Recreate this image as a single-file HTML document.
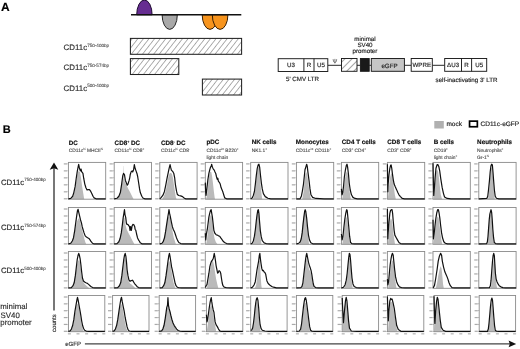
<!DOCTYPE html>
<html><head><meta charset="utf-8"><style>
html,body{margin:0;padding:0;background:#fff;}
svg{display:block;font-family:"Liberation Sans", sans-serif;text-rendering:geometricPrecision;will-change:transform;}
</style></head><body>
<svg width="520" height="349" viewBox="0 0 520 349">
<defs>
<pattern id="hatch" patternUnits="userSpaceOnUse" width="4.4" height="6" patternTransform="rotate(38)">
<line x1="0" y1="0" x2="0" y2="6" stroke="#3a3a3a" stroke-width="0.85"/>
</pattern>
<pattern id="hatch2" patternUnits="userSpaceOnUse" width="5" height="5" patternTransform="rotate(45)">
<line x1="0" y1="0" x2="0" y2="5" stroke="#333" stroke-width="0.9"/>
</pattern>
</defs>
<rect width="520" height="349" fill="#fff"/>
<!-- Panel A -->
<text x="1.1" y="10.7" font-size="12" font-weight="bold" fill="#000" stroke="#000" stroke-width="0.14">A</text>
<path d="M136.7,14.8 A7.7,14.8 0 0 1 152.1,14.8 Z" fill="#662d91" stroke="#1e0c30" stroke-width="1"/>
<path d="M162.1,14.8 A7.6,14.6 0 0 0 177.3,14.8 Z" fill="#a8a8a8" stroke="#222" stroke-width="1"/>
<path d="M202.2,14.8 A7.8,14.6 0 0 0 217.8,14.8 Z" fill="#f7941d" stroke="#3a1e00" stroke-width="1"/>
<path d="M212.3,14.8 A7.8,14.6 0 0 0 227.9,14.8 Z" fill="#f7941d" stroke="#3a1e00" stroke-width="1"/>
<line x1="131" y1="14.8" x2="241.3" y2="14.8" stroke="#111" stroke-width="1.6"/>
<rect x="130.4" y="38.4" width="111.2" height="15.9" fill="url(#hatch)" stroke="#222" stroke-width="1.05"/>
<rect x="130.4" y="58.6" width="48.4" height="15.9" fill="url(#hatch)" stroke="#222" stroke-width="1.05"/>
<rect x="202.4" y="79.1" width="39.2" height="15.9" fill="url(#hatch)" stroke="#222" stroke-width="1.05"/>
<text x="63.6" y="50.2" font-size="7.9" fill="#2e2e2e" stroke="#2e2e2e" stroke-width="0.15">CD11c<tspan dy="-3.32" font-size="4.6" stroke-width="0.08" fill="#444" stroke="#444">750-400bp</tspan></text>
<text x="63.6" y="70.4" font-size="7.9" fill="#2e2e2e" stroke="#2e2e2e" stroke-width="0.15">CD11c<tspan dy="-3.32" font-size="4.6" stroke-width="0.08" fill="#444" stroke="#444">750-574bp</tspan></text>
<text x="63.6" y="90.5" font-size="7.9" fill="#2e2e2e" stroke="#2e2e2e" stroke-width="0.15">CD11c<tspan dy="-3.32" font-size="4.6" stroke-width="0.08" fill="#444" stroke="#444">500-400bp</tspan></text>
<!-- vector -->
<g stroke="#1a1a1a" stroke-width="0.95">
<line x1="327.8" y1="65.3" x2="341.5" y2="65.3"/>
<line x1="357" y1="65.3" x2="360.2" y2="65.3"/>
<line x1="369.2" y1="65.3" x2="371.3" y2="65.3"/>
<line x1="404.4" y1="65.3" x2="411.2" y2="65.3"/>
<line x1="432.3" y1="65.3" x2="444.7" y2="65.3"/>
<rect x="278.2" y="58.7" width="49.6" height="12.8" fill="#fff"/>
<line x1="303.9" y1="58.7" x2="303.9" y2="71.5"/>
<line x1="314" y1="58.7" x2="314" y2="71.5"/>
<rect x="341.5" y="58.5" width="15.5" height="12.8" fill="url(#hatch2)"/>
<rect x="360.4" y="58.5" width="8.8" height="12.8" fill="#1a1a1a"/>
<rect x="371.3" y="58.5" width="33.1" height="12.8" fill="#c6c6c6"/>
<rect x="411.2" y="58.5" width="21.1" height="12.8" fill="#fff"/>
<rect x="444.7" y="58.5" width="42" height="12.8" fill="#fff"/>
<line x1="461.5" y1="58.5" x2="461.5" y2="71.3"/>
<line x1="471.6" y1="58.5" x2="471.6" y2="71.3"/>
</g>
<g font-size="6.2" fill="#2a2a2a" stroke="#2a2a2a" stroke-width="0.18" text-anchor="middle">
<text x="291" y="67.3">U3</text>
<text x="309" y="67.3">R</text>
<text x="321" y="67.3">U5</text>

<text x="389.5" y="67.5">eGFP</text>
<text x="421.8" y="67.3">WPRE</text>
<text x="453.1" y="67.3">&#916;U3</text>
<text x="466.6" y="67.3">R</text>
<text x="479.2" y="67.3">U5</text>
<text x="302.5" y="81.2">5' CMV LTR</text>
<text x="466.5" y="81.5">self-inactivating 3' LTR</text>
<text x="365" y="40.6">minimal</text>
<text x="365" y="46.6">SV40</text>
<text x="365" y="53.4">promoter</text>
</g>
<path d="M333.1,59.2 Q333.3,62.6 334.9,62.6 Q336.5,62.6 336.7,59.2 M334.9,58.9 L334.9,63.4" fill="none" stroke="#555" stroke-width="0.75"/>
<!-- Panel B -->
<text x="2.8" y="133.2" font-size="11" font-weight="bold" fill="#000" stroke="#000" stroke-width="0.14">B</text>
<rect x="434.3" y="121" width="9.5" height="7.5" fill="#b0b0b0"/>
<text x="446.4" y="126.4" font-size="6.5" fill="#222" stroke="#222" stroke-width="0.16">mock</text>
<rect x="469.55" y="121.15" width="7.8" height="5.6" fill="none" stroke="#000" stroke-width="1.7"/>
<text x="480.6" y="126.4" font-size="6.5" fill="#222" stroke="#222" stroke-width="0.16">CD11c-eGFP</text>
<text x="68.80" y="145.3" font-size="6.3" font-weight="bold" fill="#111" stroke="#111" stroke-width="0.16">DC</text>
<text x="68.80" y="152.40" font-size="4.85" fill="#444" stroke="#444" stroke-width="0.1">CD11c<tspan baseline-shift='super' font-size='3' stroke-width='0.05'>hi</tspan> MHCII<tspan baseline-shift='super' font-size='3' stroke-width='0.05'>hi</tspan></text>
<text x="114.60" y="144.8" font-size="6.3" font-weight="bold" fill="#111" stroke="#111" stroke-width="0.16">CD8<tspan baseline-shift='super' font-size='3.5'>+</tspan> DC</text>
<text x="114.60" y="152.40" font-size="4.85" fill="#444" stroke="#444" stroke-width="0.1">CD11c<tspan baseline-shift='super' font-size='3' stroke-width='0.05'>hi</tspan> CD8<tspan baseline-shift='super' font-size='3' stroke-width='0.05'>+</tspan></text>
<text x="161.00" y="144.5" font-size="6.3" font-weight="bold" fill="#111" stroke="#111" stroke-width="0.16">CD8<tspan baseline-shift='super' font-size='3.5'>-</tspan> DC</text>
<text x="161.00" y="152.40" font-size="4.85" fill="#444" stroke="#444" stroke-width="0.1">CD11c<tspan baseline-shift='super' font-size='3' stroke-width='0.05'>hi</tspan> CD8<tspan baseline-shift='super' font-size='3' stroke-width='0.05'>-</tspan></text>
<text x="206.40" y="143.9" font-size="6.3" font-weight="bold" fill="#111" stroke="#111" stroke-width="0.16">pDC</text>
<text x="206.40" y="152.40" font-size="4.85" fill="#444" stroke="#444" stroke-width="0.1">CD11c<tspan baseline-shift='super' font-size='3' stroke-width='0.05'>int</tspan> B220<tspan baseline-shift='super' font-size='3' stroke-width='0.05'>+</tspan></text>
<text x="206.40" y="158.60" font-size="4.85" fill="#444" stroke="#444" stroke-width="0.1">light chain</text>
<text x="251.70" y="143.9" font-size="6.3" font-weight="bold" fill="#111" stroke="#111" stroke-width="0.16">NK cells</text>
<text x="251.70" y="152.40" font-size="4.85" fill="#444" stroke="#444" stroke-width="0.1">NK1.1<tspan baseline-shift='super' font-size='3' stroke-width='0.05'>+</tspan></text>
<text x="295.80" y="143.8" font-size="6.3" font-weight="bold" fill="#111" stroke="#111" stroke-width="0.16">Monocytes</text>
<text x="295.80" y="152.40" font-size="4.85" fill="#444" stroke="#444" stroke-width="0.1">CD11c<tspan baseline-shift='super' font-size='3' stroke-width='0.05'>int</tspan> CD11b<tspan baseline-shift='super' font-size='3' stroke-width='0.05'>+</tspan></text>
<text x="341.80" y="143.9" font-size="6.3" font-weight="bold" fill="#111" stroke="#111" stroke-width="0.16">CD4 T cells</text>
<text x="341.80" y="152.40" font-size="4.85" fill="#444" stroke="#444" stroke-width="0.1">CD3<tspan baseline-shift='super' font-size='3' stroke-width='0.05'>+</tspan> CD4<tspan baseline-shift='super' font-size='3' stroke-width='0.05'>+</tspan></text>
<text x="387.30" y="143.9" font-size="6.3" font-weight="bold" fill="#111" stroke="#111" stroke-width="0.16">CD8 T cells</text>
<text x="387.30" y="152.40" font-size="4.85" fill="#444" stroke="#444" stroke-width="0.1">CD3<tspan baseline-shift='super' font-size='3' stroke-width='0.05'>+</tspan> CD8<tspan baseline-shift='super' font-size='3' stroke-width='0.05'>+</tspan></text>
<text x="433.70" y="143.9" font-size="6.3" font-weight="bold" fill="#111" stroke="#111" stroke-width="0.16">B cells</text>
<text x="433.70" y="152.40" font-size="4.85" fill="#444" stroke="#444" stroke-width="0.1">CD19<tspan baseline-shift='super' font-size='3' stroke-width='0.05'>+</tspan></text>
<text x="433.70" y="158.60" font-size="4.85" fill="#444" stroke="#444" stroke-width="0.1">light chain<tspan baseline-shift='super' font-size='3' stroke-width='0.05'>+</tspan></text>
<text x="477.10" y="143.9" font-size="6.3" font-weight="bold" fill="#111" stroke="#111" stroke-width="0.16">Neutrophils</text>
<text x="477.10" y="152.40" font-size="4.85" fill="#444" stroke="#444" stroke-width="0.1">Neutrophils<tspan baseline-shift='super' font-size='3' stroke-width='0.05'>+</tspan></text>
<text x="477.10" y="158.60" font-size="4.85" fill="#444" stroke="#444" stroke-width="0.1">Gr-1<tspan baseline-shift='super' font-size='3' stroke-width='0.05'>hi</tspan></text>
<text x="0.9" y="184.7" font-size="7.8" fill="#222" stroke="#222" stroke-width="0.12">CD11c<tspan dy="-3.28" font-size="4.5" stroke-width="0.08" fill="#444" stroke="#444">750-400bp</tspan></text>
<text x="0.9" y="229.9" font-size="7.8" fill="#222" stroke="#222" stroke-width="0.12">CD11c<tspan dy="-3.28" font-size="4.5" stroke-width="0.08" fill="#444" stroke="#444">750-574bp</tspan></text>
<text x="0.9" y="273.3" font-size="7.8" fill="#222" stroke="#222" stroke-width="0.12">CD11c<tspan dy="-3.28" font-size="4.5" stroke-width="0.08" fill="#444" stroke="#444">500-400bp</tspan></text>
<text x="0.3" y="309.4" font-size="7.85" fill="#2a2a2a" stroke="#2a2a2a" stroke-width="0.14">minimal</text>
<text x="0.6" y="317.8" font-size="7.85" fill="#2a2a2a" stroke="#2a2a2a" stroke-width="0.14">SV40</text>
<text x="0.3" y="325.3" font-size="7.85" fill="#2a2a2a" stroke="#2a2a2a" stroke-width="0.14">promoter</text>
<line x1="54" y1="168" x2="54" y2="310.6" stroke="#555" stroke-width="1.6"/>
<path d="M54,162.5 L58.3,169.8 L54,168.3 L49.7,169.8 Z" fill="#111"/>
<text transform="translate(55.9,331.9) rotate(-90)" font-size="6" fill="#2a2a2a" stroke="#2a2a2a" stroke-width="0.15">counts</text>
<text x="65.2" y="346.4" font-size="6.1" fill="#2a2a2a" stroke="#2a2a2a" stroke-width="0.1">eGFP</text>
<line x1="84.9" y1="343.9" x2="510" y2="343.9" stroke="#444" stroke-width="1.3"/>
<path d="M516.2,343.9 L508.6,340.6 L509.8,343.9 L508.6,347.2 Z" fill="#111"/>
<rect x="63.80" y="163.30" width="3.2" height="1.2" fill="#aaa"/>
<rect x="67.20" y="163.60" width="1.2" height="0.6" fill="#999"/>
<rect x="63.80" y="170.28" width="3.2" height="1.2" fill="#aaa"/>
<rect x="67.20" y="170.58" width="1.2" height="0.6" fill="#999"/>
<rect x="63.80" y="177.26" width="3.2" height="1.2" fill="#aaa"/>
<rect x="67.20" y="177.56" width="1.2" height="0.6" fill="#999"/>
<rect x="63.80" y="184.24" width="3.2" height="1.2" fill="#aaa"/>
<rect x="67.20" y="184.54" width="1.2" height="0.6" fill="#999"/>
<rect x="63.80" y="191.22" width="3.2" height="1.2" fill="#aaa"/>
<rect x="67.20" y="191.52" width="1.2" height="0.6" fill="#999"/>
<rect x="63.80" y="198.20" width="3.2" height="1.2" fill="#aaa"/>
<rect x="67.20" y="198.50" width="1.2" height="0.6" fill="#999"/>
<polygon points="71.38,199.20 73.25,196.26 75.11,188.90 76.23,181.90 77.35,174.54 78.66,170.86 79.96,171.97 81.08,178.22 82.20,186.69 83.32,193.68 84.07,198.46 84.44,199.20" fill="#bababa"/>
<rect x="68.40" y="162.40" width="37.3" height="36.8" fill="none" stroke="#8a8a8a" stroke-width="0.9"/>
<polyline points="68.40,198.83 70.82,198.46 72.69,196.26 73.81,192.58 75.11,186.69 76.23,178.22 77.35,170.86 78.10,167.18 78.66,164.24 79.22,167.18 79.96,169.76 80.34,170.86 81.08,169.02 81.64,171.60 82.95,173.44 83.69,178.22 84.81,184.11 85.93,187.79 87.05,190.00 88.17,189.63 89.47,189.63 90.78,191.47 91.90,193.68 93.02,196.26 94.14,197.91 96.00,198.83 105.70,198.83" fill="none" stroke="#111" stroke-width="1.2" stroke-linejoin="round"/>
<rect x="109.60" y="163.30" width="3.2" height="1.2" fill="#aaa"/>
<rect x="113.00" y="163.60" width="1.2" height="0.6" fill="#999"/>
<rect x="109.60" y="170.28" width="3.2" height="1.2" fill="#aaa"/>
<rect x="113.00" y="170.58" width="1.2" height="0.6" fill="#999"/>
<rect x="109.60" y="177.26" width="3.2" height="1.2" fill="#aaa"/>
<rect x="113.00" y="177.56" width="1.2" height="0.6" fill="#999"/>
<rect x="109.60" y="184.24" width="3.2" height="1.2" fill="#aaa"/>
<rect x="113.00" y="184.54" width="1.2" height="0.6" fill="#999"/>
<rect x="109.60" y="191.22" width="3.2" height="1.2" fill="#aaa"/>
<rect x="113.00" y="191.52" width="1.2" height="0.6" fill="#999"/>
<rect x="109.60" y="198.20" width="3.2" height="1.2" fill="#aaa"/>
<rect x="113.00" y="198.50" width="1.2" height="0.6" fill="#999"/>
<polygon points="117.00,199.20 118.86,196.26 120.54,190.00 122.03,184.11 123.34,178.22 123.60,166.08 123.82,166.08 124.08,178.22 124.83,181.90 126.51,185.22 128.37,188.90 130.24,192.58 132.10,196.26 133.60,199.20" fill="#bababa"/>
<rect x="114.20" y="162.40" width="37.3" height="36.8" fill="none" stroke="#8a8a8a" stroke-width="0.9"/>
<polyline points="114.20,198.83 117.00,198.28 118.86,196.26 120.35,192.58 121.66,184.11 122.78,175.65 123.53,173.44 124.46,174.54 125.39,180.43 126.40,183.01 127.25,185.22 128.00,184.11 129.12,180.43 129.68,178.22 130.24,174.54 131.21,171.60 132.10,170.86 132.66,171.97 133.60,169.76 134.34,164.61 135.09,168.29 136.02,170.86 136.95,173.44 137.70,176.75 138.67,183.01 139.56,188.90 140.31,192.58 141.80,196.26 143.29,198.28 145.16,198.83 151.50,198.83" fill="none" stroke="#111" stroke-width="1.2" stroke-linejoin="round"/>
<rect x="155.20" y="163.30" width="3.2" height="1.2" fill="#aaa"/>
<rect x="158.60" y="163.60" width="1.2" height="0.6" fill="#999"/>
<rect x="155.20" y="170.28" width="3.2" height="1.2" fill="#aaa"/>
<rect x="158.60" y="170.58" width="1.2" height="0.6" fill="#999"/>
<rect x="155.20" y="177.26" width="3.2" height="1.2" fill="#aaa"/>
<rect x="158.60" y="177.56" width="1.2" height="0.6" fill="#999"/>
<rect x="155.20" y="184.24" width="3.2" height="1.2" fill="#aaa"/>
<rect x="158.60" y="184.54" width="1.2" height="0.6" fill="#999"/>
<rect x="155.20" y="191.22" width="3.2" height="1.2" fill="#aaa"/>
<rect x="158.60" y="191.52" width="1.2" height="0.6" fill="#999"/>
<rect x="155.20" y="198.20" width="3.2" height="1.2" fill="#aaa"/>
<rect x="158.60" y="198.50" width="1.2" height="0.6" fill="#999"/>
<polygon points="162.04,199.20 163.90,196.26 165.58,191.47 167.07,184.11 168.38,176.75 169.50,173.44 170.62,172.70 171.92,173.81 173.04,178.22 173.97,185.22 175.09,192.58 175.84,197.36 176.59,199.20" fill="#bababa"/>
<rect x="159.80" y="162.40" width="37.3" height="36.8" fill="none" stroke="#8a8a8a" stroke-width="0.9"/>
<polyline points="159.80,198.83 161.29,197.36 162.97,195.15 164.46,191.47 165.77,185.22 167.07,178.22 168.38,171.97 169.12,168.29 170.06,164.61 170.62,167.18 171.36,170.13 172.11,170.86 173.04,171.97 173.79,173.44 174.72,178.22 175.47,185.22 176.59,191.47 177.33,194.42 178.82,195.52 180.69,195.89 182.55,196.62 184.42,198.28 185.91,198.83 197.10,198.83" fill="none" stroke="#111" stroke-width="1.2" stroke-linejoin="round"/>
<rect x="200.70" y="163.30" width="3.2" height="1.2" fill="#aaa"/>
<rect x="204.10" y="163.60" width="1.2" height="0.6" fill="#999"/>
<rect x="200.70" y="170.28" width="3.2" height="1.2" fill="#aaa"/>
<rect x="204.10" y="170.58" width="1.2" height="0.6" fill="#999"/>
<rect x="200.70" y="177.26" width="3.2" height="1.2" fill="#aaa"/>
<rect x="204.10" y="177.56" width="1.2" height="0.6" fill="#999"/>
<rect x="200.70" y="184.24" width="3.2" height="1.2" fill="#aaa"/>
<rect x="204.10" y="184.54" width="1.2" height="0.6" fill="#999"/>
<rect x="200.70" y="191.22" width="3.2" height="1.2" fill="#aaa"/>
<rect x="204.10" y="191.52" width="1.2" height="0.6" fill="#999"/>
<rect x="200.70" y="198.20" width="3.2" height="1.2" fill="#aaa"/>
<rect x="204.10" y="198.50" width="1.2" height="0.6" fill="#999"/>
<polygon points="206.05,199.20 206.79,196.26 207.72,188.90 208.51,180.43 209.40,174.54 210.34,171.60 211.27,171.97 212.01,175.65 212.95,183.01 213.88,191.47 214.62,197.36 215.00,199.20" fill="#bababa"/>
<rect x="205.30" y="162.40" width="37.3" height="36.8" fill="none" stroke="#8a8a8a" stroke-width="0.9"/>
<polyline points="205.30,182.64 205.67,191.84 206.05,195.52 206.98,187.79 207.91,179.33 208.88,173.44 209.78,169.76 210.52,167.18 211.27,166.08 211.64,164.24 212.39,167.18 213.32,169.02 214.25,170.13 215.00,171.97 215.74,173.44 216.49,176.75 217.24,179.33 217.80,178.22 218.36,181.17 219.32,182.27 220.22,184.11 221.15,187.79 222.09,190.00 222.83,191.84 223.95,195.52 224.70,197.91 226.56,198.83 242.60,198.83" fill="none" stroke="#111" stroke-width="1.2" stroke-linejoin="round"/>
<rect x="246.10" y="163.30" width="3.2" height="1.2" fill="#aaa"/>
<rect x="249.50" y="163.60" width="1.2" height="0.6" fill="#999"/>
<rect x="246.10" y="170.28" width="3.2" height="1.2" fill="#aaa"/>
<rect x="249.50" y="170.58" width="1.2" height="0.6" fill="#999"/>
<rect x="246.10" y="177.26" width="3.2" height="1.2" fill="#aaa"/>
<rect x="249.50" y="177.56" width="1.2" height="0.6" fill="#999"/>
<rect x="246.10" y="184.24" width="3.2" height="1.2" fill="#aaa"/>
<rect x="249.50" y="184.54" width="1.2" height="0.6" fill="#999"/>
<rect x="246.10" y="191.22" width="3.2" height="1.2" fill="#aaa"/>
<rect x="249.50" y="191.52" width="1.2" height="0.6" fill="#999"/>
<rect x="246.10" y="198.20" width="3.2" height="1.2" fill="#aaa"/>
<rect x="249.50" y="198.50" width="1.2" height="0.6" fill="#999"/>
<polygon points="252.75,199.20 253.91,196.26 255.18,190.00 256.07,181.90 257.04,173.44 257.79,168.29 258.53,166.82 259.28,169.76 260.17,178.22 260.88,187.79 261.74,195.52 262.26,199.20" fill="#bababa"/>
<rect x="250.70" y="162.40" width="37.3" height="36.8" fill="none" stroke="#8a8a8a" stroke-width="0.9"/>
<polyline points="250.70,198.83 252.19,197.91 253.31,195.52 254.43,191.47 255.36,184.11 256.30,175.65 257.26,168.29 258.16,164.98 258.91,164.24 259.65,167.18 260.40,174.54 261.37,183.01 262.26,188.90 263.38,193.68 265.25,196.62 267.86,198.28 270.84,198.83 288.00,198.83" fill="none" stroke="#111" stroke-width="1.2" stroke-linejoin="round"/>
<rect x="291.80" y="163.30" width="3.2" height="1.2" fill="#aaa"/>
<rect x="295.20" y="163.60" width="1.2" height="0.6" fill="#999"/>
<rect x="291.80" y="170.28" width="3.2" height="1.2" fill="#aaa"/>
<rect x="295.20" y="170.58" width="1.2" height="0.6" fill="#999"/>
<rect x="291.80" y="177.26" width="3.2" height="1.2" fill="#aaa"/>
<rect x="295.20" y="177.56" width="1.2" height="0.6" fill="#999"/>
<rect x="291.80" y="184.24" width="3.2" height="1.2" fill="#aaa"/>
<rect x="295.20" y="184.54" width="1.2" height="0.6" fill="#999"/>
<rect x="291.80" y="191.22" width="3.2" height="1.2" fill="#aaa"/>
<rect x="295.20" y="191.52" width="1.2" height="0.6" fill="#999"/>
<rect x="291.80" y="198.20" width="3.2" height="1.2" fill="#aaa"/>
<rect x="295.20" y="198.50" width="1.2" height="0.6" fill="#999"/>
<polygon points="302.18,199.20 303.49,192.58 304.61,180.80 305.35,174.54 306.28,171.97 307.22,174.54 308.15,181.90 309.45,191.47 310.57,197.36 311.32,199.20" fill="#bababa"/>
<rect x="296.40" y="162.40" width="37.3" height="36.8" fill="none" stroke="#8a8a8a" stroke-width="0.9"/>
<polyline points="296.40,198.83 300.13,198.83 301.44,195.89 302.37,191.10 303.49,184.11 304.23,177.12 304.98,169.76 306.10,166.08 306.66,164.24 307.22,166.08 307.96,172.34 309.08,180.80 310.01,188.90 310.95,194.78 312.63,197.36 315.80,198.46 324.00,198.83 333.70,198.83" fill="none" stroke="#111" stroke-width="1.2" stroke-linejoin="round"/>
<rect x="336.80" y="163.30" width="3.2" height="1.2" fill="#aaa"/>
<rect x="340.20" y="163.60" width="1.2" height="0.6" fill="#999"/>
<rect x="336.80" y="170.28" width="3.2" height="1.2" fill="#aaa"/>
<rect x="340.20" y="170.58" width="1.2" height="0.6" fill="#999"/>
<rect x="336.80" y="177.26" width="3.2" height="1.2" fill="#aaa"/>
<rect x="340.20" y="177.56" width="1.2" height="0.6" fill="#999"/>
<rect x="336.80" y="184.24" width="3.2" height="1.2" fill="#aaa"/>
<rect x="340.20" y="184.54" width="1.2" height="0.6" fill="#999"/>
<rect x="336.80" y="191.22" width="3.2" height="1.2" fill="#aaa"/>
<rect x="340.20" y="191.52" width="1.2" height="0.6" fill="#999"/>
<rect x="336.80" y="198.20" width="3.2" height="1.2" fill="#aaa"/>
<rect x="340.20" y="198.50" width="1.2" height="0.6" fill="#999"/>
<polygon points="342.03,199.20 343.00,194.78 344.01,187.79 344.76,180.43 345.65,174.54 346.62,171.60 347.59,173.44 348.49,180.43 349.23,188.90 350.24,195.52 350.95,199.20" fill="#bababa"/>
<rect x="341.40" y="162.40" width="37.3" height="36.8" fill="none" stroke="#8a8a8a" stroke-width="0.9"/>
<polyline points="341.40,188.90 342.03,194.78 342.78,192.58 343.64,185.22 344.38,176.75 345.43,169.76 346.36,165.34 347.00,164.24 347.59,166.82 348.49,174.54 349.23,183.01 350.24,190.00 351.47,194.78 352.96,197.36 355.05,198.46 357.44,198.83 378.70,198.83" fill="none" stroke="#111" stroke-width="1.2" stroke-linejoin="round"/>
<rect x="382.80" y="163.30" width="3.2" height="1.2" fill="#aaa"/>
<rect x="386.20" y="163.60" width="1.2" height="0.6" fill="#999"/>
<rect x="382.80" y="170.28" width="3.2" height="1.2" fill="#aaa"/>
<rect x="386.20" y="170.58" width="1.2" height="0.6" fill="#999"/>
<rect x="382.80" y="177.26" width="3.2" height="1.2" fill="#aaa"/>
<rect x="386.20" y="177.56" width="1.2" height="0.6" fill="#999"/>
<rect x="382.80" y="184.24" width="3.2" height="1.2" fill="#aaa"/>
<rect x="386.20" y="184.54" width="1.2" height="0.6" fill="#999"/>
<rect x="382.80" y="191.22" width="3.2" height="1.2" fill="#aaa"/>
<rect x="386.20" y="191.52" width="1.2" height="0.6" fill="#999"/>
<rect x="382.80" y="198.20" width="3.2" height="1.2" fill="#aaa"/>
<rect x="386.20" y="198.50" width="1.2" height="0.6" fill="#999"/>
<polygon points="387.77,199.20 388.41,192.58 389.38,183.01 390.20,176.75 391.13,173.44 392.03,174.54 393.00,180.43 393.93,187.79 394.86,194.78 395.87,199.20" fill="#bababa"/>
<rect x="387.40" y="162.40" width="37.3" height="36.8" fill="none" stroke="#8a8a8a" stroke-width="0.9"/>
<polyline points="387.40,164.24 387.62,180.80 387.85,191.84 388.15,184.11 389.00,174.54 389.86,168.29 390.57,165.34 391.13,164.98 391.76,168.29 392.36,173.44 393.22,179.33 394.11,184.11 395.38,187.06 396.58,189.63 397.84,192.58 398.96,194.78 400.45,196.62 402.32,198.46 404.56,198.83 424.70,198.83" fill="none" stroke="#111" stroke-width="1.2" stroke-linejoin="round"/>
<rect x="428.40" y="163.30" width="3.2" height="1.2" fill="#aaa"/>
<rect x="431.80" y="163.60" width="1.2" height="0.6" fill="#999"/>
<rect x="428.40" y="170.28" width="3.2" height="1.2" fill="#aaa"/>
<rect x="431.80" y="170.58" width="1.2" height="0.6" fill="#999"/>
<rect x="428.40" y="177.26" width="3.2" height="1.2" fill="#aaa"/>
<rect x="431.80" y="177.56" width="1.2" height="0.6" fill="#999"/>
<rect x="428.40" y="184.24" width="3.2" height="1.2" fill="#aaa"/>
<rect x="431.80" y="184.54" width="1.2" height="0.6" fill="#999"/>
<rect x="428.40" y="191.22" width="3.2" height="1.2" fill="#aaa"/>
<rect x="431.80" y="191.52" width="1.2" height="0.6" fill="#999"/>
<rect x="428.40" y="198.20" width="3.2" height="1.2" fill="#aaa"/>
<rect x="431.80" y="198.50" width="1.2" height="0.6" fill="#999"/>
<polygon points="433.60,199.20 434.49,190.00 435.46,177.86 436.36,170.86 437.29,169.39 438.22,171.97 439.12,179.14 439.98,187.42 440.83,194.78 441.95,198.83 442.32,199.20" fill="#bababa"/>
<rect x="433.00" y="162.40" width="37.3" height="36.8" fill="none" stroke="#8a8a8a" stroke-width="0.9"/>
<polyline points="433.00,163.14 433.37,180.80 433.75,195.52 434.23,190.00 435.09,177.86 435.98,168.29 437.10,164.61 437.85,164.61 438.78,166.45 439.71,170.86 440.83,179.14 442.14,187.42 443.44,193.31 444.56,196.99 447.17,198.46 450.90,198.83 470.30,198.83" fill="none" stroke="#111" stroke-width="1.2" stroke-linejoin="round"/>
<rect x="474.20" y="163.30" width="3.2" height="1.2" fill="#aaa"/>
<rect x="477.60" y="163.60" width="1.2" height="0.6" fill="#999"/>
<rect x="474.20" y="170.28" width="3.2" height="1.2" fill="#aaa"/>
<rect x="477.60" y="170.58" width="1.2" height="0.6" fill="#999"/>
<rect x="474.20" y="177.26" width="3.2" height="1.2" fill="#aaa"/>
<rect x="477.60" y="177.56" width="1.2" height="0.6" fill="#999"/>
<rect x="474.20" y="184.24" width="3.2" height="1.2" fill="#aaa"/>
<rect x="477.60" y="184.54" width="1.2" height="0.6" fill="#999"/>
<rect x="474.20" y="191.22" width="3.2" height="1.2" fill="#aaa"/>
<rect x="477.60" y="191.52" width="1.2" height="0.6" fill="#999"/>
<rect x="474.20" y="198.20" width="3.2" height="1.2" fill="#aaa"/>
<rect x="477.60" y="198.50" width="1.2" height="0.6" fill="#999"/>
<polygon points="488.01,199.20 488.76,194.78 489.47,186.69 490.18,176.75 490.92,169.76 491.63,167.18 492.38,169.76 493.09,179.33 493.79,190.00 494.47,197.36 494.84,199.20" fill="#bababa"/>
<rect x="478.80" y="162.40" width="37.3" height="36.8" fill="none" stroke="#8a8a8a" stroke-width="0.9"/>
<polyline points="478.80,198.83 486.82,198.46 487.75,196.26 488.50,190.00 489.47,180.43 490.18,171.97 490.92,166.08 491.63,164.24 492.38,164.98 492.97,171.97 493.72,181.90 494.39,190.00 495.21,196.26 496.44,198.28 498.94,198.83 516.10,198.83" fill="none" stroke="#111" stroke-width="1.2" stroke-linejoin="round"/>
<rect x="63.80" y="208.40" width="3.2" height="1.2" fill="#aaa"/>
<rect x="67.20" y="208.70" width="1.2" height="0.6" fill="#999"/>
<rect x="63.80" y="215.38" width="3.2" height="1.2" fill="#aaa"/>
<rect x="67.20" y="215.68" width="1.2" height="0.6" fill="#999"/>
<rect x="63.80" y="222.36" width="3.2" height="1.2" fill="#aaa"/>
<rect x="67.20" y="222.66" width="1.2" height="0.6" fill="#999"/>
<rect x="63.80" y="229.34" width="3.2" height="1.2" fill="#aaa"/>
<rect x="67.20" y="229.64" width="1.2" height="0.6" fill="#999"/>
<rect x="63.80" y="236.32" width="3.2" height="1.2" fill="#aaa"/>
<rect x="67.20" y="236.62" width="1.2" height="0.6" fill="#999"/>
<rect x="63.80" y="243.30" width="3.2" height="1.2" fill="#aaa"/>
<rect x="67.20" y="243.60" width="1.2" height="0.6" fill="#999"/>
<polygon points="70.82,244.30 72.61,240.99 74.18,235.10 75.64,227.74 76.83,221.85 78.10,218.91 78.99,218.17 79.96,220.75 81.04,225.53 82.20,230.32 83.43,235.10 84.66,239.88 85.56,242.83 86.30,244.30" fill="#bababa"/>
<rect x="68.40" y="207.50" width="37.3" height="36.8" fill="none" stroke="#8a8a8a" stroke-width="0.9"/>
<polyline points="68.40,243.93 70.82,243.20 72.32,240.99 73.51,237.68 74.74,230.32 75.86,221.85 76.83,214.86 77.54,210.44 78.10,209.34 78.77,212.28 79.59,215.96 80.45,219.64 81.45,222.96 82.20,226.64 82.95,229.21 84.07,232.89 85.19,235.84 86.45,236.94 87.65,237.68 88.92,238.41 90.03,239.88 91.15,241.72 92.46,243.20 94.14,243.93 105.70,243.93" fill="none" stroke="#111" stroke-width="1.2" stroke-linejoin="round"/>
<rect x="109.60" y="208.40" width="3.2" height="1.2" fill="#aaa"/>
<rect x="113.00" y="208.70" width="1.2" height="0.6" fill="#999"/>
<rect x="109.60" y="215.38" width="3.2" height="1.2" fill="#aaa"/>
<rect x="113.00" y="215.68" width="1.2" height="0.6" fill="#999"/>
<rect x="109.60" y="222.36" width="3.2" height="1.2" fill="#aaa"/>
<rect x="113.00" y="222.66" width="1.2" height="0.6" fill="#999"/>
<rect x="109.60" y="229.34" width="3.2" height="1.2" fill="#aaa"/>
<rect x="113.00" y="229.64" width="1.2" height="0.6" fill="#999"/>
<rect x="109.60" y="236.32" width="3.2" height="1.2" fill="#aaa"/>
<rect x="113.00" y="236.62" width="1.2" height="0.6" fill="#999"/>
<rect x="109.60" y="243.30" width="3.2" height="1.2" fill="#aaa"/>
<rect x="113.00" y="243.60" width="1.2" height="0.6" fill="#999"/>
<polygon points="117.00,244.30 118.83,241.72 120.39,236.20 121.85,229.21 123.04,221.85 123.90,217.07 124.64,218.17 125.39,224.43 126.62,229.21 128.45,232.89 130.24,236.20 132.10,239.88 133.60,242.83 134.53,244.30" fill="#bababa"/>
<rect x="114.20" y="207.50" width="37.3" height="36.8" fill="none" stroke="#8a8a8a" stroke-width="0.9"/>
<polyline points="114.20,243.93 117.00,243.56 118.83,241.72 120.02,238.78 121.29,232.89 122.41,224.43 123.26,217.07 123.90,213.39 124.49,209.71 125.02,214.86 125.69,217.07 126.40,223.32 126.99,224.43 127.85,224.43 128.67,225.53 129.49,226.64 130.02,230.32 130.61,226.64 131.36,230.32 132.10,225.90 132.85,224.43 133.86,224.80 134.72,226.64 135.09,229.21 135.83,230.32 136.58,234.00 137.48,237.68 138.44,239.88 139.27,240.99 140.31,242.83 142.18,243.93 151.50,243.93" fill="none" stroke="#111" stroke-width="1.2" stroke-linejoin="round"/>
<rect x="155.20" y="208.40" width="3.2" height="1.2" fill="#aaa"/>
<rect x="158.60" y="208.70" width="1.2" height="0.6" fill="#999"/>
<rect x="155.20" y="215.38" width="3.2" height="1.2" fill="#aaa"/>
<rect x="158.60" y="215.68" width="1.2" height="0.6" fill="#999"/>
<rect x="155.20" y="222.36" width="3.2" height="1.2" fill="#aaa"/>
<rect x="158.60" y="222.66" width="1.2" height="0.6" fill="#999"/>
<rect x="155.20" y="229.34" width="3.2" height="1.2" fill="#aaa"/>
<rect x="158.60" y="229.64" width="1.2" height="0.6" fill="#999"/>
<rect x="155.20" y="236.32" width="3.2" height="1.2" fill="#aaa"/>
<rect x="158.60" y="236.62" width="1.2" height="0.6" fill="#999"/>
<rect x="155.20" y="243.30" width="3.2" height="1.2" fill="#aaa"/>
<rect x="158.60" y="243.60" width="1.2" height="0.6" fill="#999"/>
<polygon points="162.04,244.30 163.53,240.99 164.65,236.20 165.88,229.21 167.07,221.85 168.27,217.07 169.24,216.33 170.24,218.17 171.36,224.43 172.59,231.42 173.79,237.68 175.09,241.72 175.84,244.30" fill="#bababa"/>
<rect x="159.80" y="207.50" width="37.3" height="36.8" fill="none" stroke="#8a8a8a" stroke-width="0.9"/>
<polyline points="159.80,243.93 162.04,243.20 163.16,241.72 164.43,238.04 165.62,231.42 166.89,222.96 167.78,217.07 168.49,213.02 168.98,209.71 169.61,213.39 170.43,217.07 171.36,221.85 172.37,226.64 173.23,229.21 174.35,231.42 175.24,234.00 176.44,237.68 177.70,240.62 178.82,242.46 180.69,243.56 182.93,243.93 197.10,243.93" fill="none" stroke="#111" stroke-width="1.2" stroke-linejoin="round"/>
<rect x="200.70" y="208.40" width="3.2" height="1.2" fill="#aaa"/>
<rect x="204.10" y="208.70" width="1.2" height="0.6" fill="#999"/>
<rect x="200.70" y="215.38" width="3.2" height="1.2" fill="#aaa"/>
<rect x="204.10" y="215.68" width="1.2" height="0.6" fill="#999"/>
<rect x="200.70" y="222.36" width="3.2" height="1.2" fill="#aaa"/>
<rect x="204.10" y="222.66" width="1.2" height="0.6" fill="#999"/>
<rect x="200.70" y="229.34" width="3.2" height="1.2" fill="#aaa"/>
<rect x="204.10" y="229.64" width="1.2" height="0.6" fill="#999"/>
<rect x="200.70" y="236.32" width="3.2" height="1.2" fill="#aaa"/>
<rect x="204.10" y="236.62" width="1.2" height="0.6" fill="#999"/>
<rect x="200.70" y="243.30" width="3.2" height="1.2" fill="#aaa"/>
<rect x="204.10" y="243.60" width="1.2" height="0.6" fill="#999"/>
<polygon points="206.05,244.30 206.94,239.88 207.91,231.42 208.88,222.96 209.78,217.07 210.78,214.86 211.75,217.07 212.76,225.53 213.69,234.00 214.62,238.78 215.74,241.72 216.86,243.56 217.61,244.30" fill="#bababa"/>
<rect x="205.30" y="207.50" width="37.3" height="36.8" fill="none" stroke="#8a8a8a" stroke-width="0.9"/>
<polyline points="205.30,233.26 205.75,239.88 206.42,234.00 207.31,229.21 208.13,222.96 208.88,217.07 209.70,213.39 210.52,210.44 211.16,209.71 211.75,213.39 212.39,217.07 213.21,224.43 213.88,230.32 214.89,233.26 216.12,234.73 217.24,235.10 218.50,235.84 219.70,236.20 220.59,237.68 221.71,239.15 222.94,240.99 224.51,242.46 226.56,243.56 228.99,243.93 242.60,243.93" fill="none" stroke="#111" stroke-width="1.2" stroke-linejoin="round"/>
<rect x="246.10" y="208.40" width="3.2" height="1.2" fill="#aaa"/>
<rect x="249.50" y="208.70" width="1.2" height="0.6" fill="#999"/>
<rect x="246.10" y="215.38" width="3.2" height="1.2" fill="#aaa"/>
<rect x="249.50" y="215.68" width="1.2" height="0.6" fill="#999"/>
<rect x="246.10" y="222.36" width="3.2" height="1.2" fill="#aaa"/>
<rect x="249.50" y="222.66" width="1.2" height="0.6" fill="#999"/>
<rect x="246.10" y="229.34" width="3.2" height="1.2" fill="#aaa"/>
<rect x="249.50" y="229.64" width="1.2" height="0.6" fill="#999"/>
<rect x="246.10" y="236.32" width="3.2" height="1.2" fill="#aaa"/>
<rect x="249.50" y="236.62" width="1.2" height="0.6" fill="#999"/>
<rect x="246.10" y="243.30" width="3.2" height="1.2" fill="#aaa"/>
<rect x="249.50" y="243.60" width="1.2" height="0.6" fill="#999"/>
<polygon points="252.71,244.30 253.91,240.99 254.88,235.10 255.70,226.64 256.56,218.17 257.53,213.39 258.16,212.28 258.91,215.96 259.65,225.53 260.40,235.10 261.14,241.72 261.52,244.30" fill="#bababa"/>
<rect x="250.70" y="207.50" width="37.3" height="36.8" fill="none" stroke="#8a8a8a" stroke-width="0.9"/>
<polyline points="250.70,243.93 252.19,243.20 253.31,240.99 254.43,236.20 255.40,229.21 256.30,220.75 257.04,214.86 257.79,210.44 258.35,209.71 258.91,213.39 259.58,221.85 260.29,230.32 261.14,236.20 262.26,240.62 264.13,242.83 266.55,243.75 269.35,243.93 288.00,243.93" fill="none" stroke="#111" stroke-width="1.2" stroke-linejoin="round"/>
<rect x="291.80" y="208.40" width="3.2" height="1.2" fill="#aaa"/>
<rect x="295.20" y="208.70" width="1.2" height="0.6" fill="#999"/>
<rect x="291.80" y="215.38" width="3.2" height="1.2" fill="#aaa"/>
<rect x="295.20" y="215.68" width="1.2" height="0.6" fill="#999"/>
<rect x="291.80" y="222.36" width="3.2" height="1.2" fill="#aaa"/>
<rect x="295.20" y="222.66" width="1.2" height="0.6" fill="#999"/>
<rect x="291.80" y="229.34" width="3.2" height="1.2" fill="#aaa"/>
<rect x="295.20" y="229.64" width="1.2" height="0.6" fill="#999"/>
<rect x="291.80" y="236.32" width="3.2" height="1.2" fill="#aaa"/>
<rect x="295.20" y="236.62" width="1.2" height="0.6" fill="#999"/>
<rect x="291.80" y="243.30" width="3.2" height="1.2" fill="#aaa"/>
<rect x="295.20" y="243.60" width="1.2" height="0.6" fill="#999"/>
<polygon points="299.38,244.30 300.61,240.99 301.58,235.10 302.37,226.64 303.38,218.17 304.34,213.39 305.20,212.28 306.02,214.86 306.84,223.32 307.70,232.89 308.45,239.88 309.16,244.30" fill="#bababa"/>
<rect x="296.40" y="207.50" width="37.3" height="36.8" fill="none" stroke="#8a8a8a" stroke-width="0.9"/>
<polyline points="296.40,243.93 298.82,243.20 300.24,241.72 301.25,238.78 302.18,232.89 303.04,224.43 303.86,217.07 304.61,211.55 305.20,209.71 305.80,211.55 306.66,218.17 307.48,226.64 308.45,235.10 309.45,239.88 310.84,242.83 313.19,243.93 333.70,243.93" fill="none" stroke="#111" stroke-width="1.2" stroke-linejoin="round"/>
<rect x="336.80" y="208.40" width="3.2" height="1.2" fill="#aaa"/>
<rect x="340.20" y="208.70" width="1.2" height="0.6" fill="#999"/>
<rect x="336.80" y="215.38" width="3.2" height="1.2" fill="#aaa"/>
<rect x="340.20" y="215.68" width="1.2" height="0.6" fill="#999"/>
<rect x="336.80" y="222.36" width="3.2" height="1.2" fill="#aaa"/>
<rect x="340.20" y="222.66" width="1.2" height="0.6" fill="#999"/>
<rect x="336.80" y="229.34" width="3.2" height="1.2" fill="#aaa"/>
<rect x="340.20" y="229.64" width="1.2" height="0.6" fill="#999"/>
<rect x="336.80" y="236.32" width="3.2" height="1.2" fill="#aaa"/>
<rect x="340.20" y="236.62" width="1.2" height="0.6" fill="#999"/>
<rect x="336.80" y="243.30" width="3.2" height="1.2" fill="#aaa"/>
<rect x="340.20" y="243.60" width="1.2" height="0.6" fill="#999"/>
<polygon points="342.15,244.30 342.97,239.88 343.82,231.42 344.76,222.96 345.73,218.17 346.62,217.07 347.37,220.75 348.38,229.21 349.34,238.78 349.98,244.30" fill="#bababa"/>
<rect x="341.40" y="207.50" width="37.3" height="36.8" fill="none" stroke="#8a8a8a" stroke-width="0.9"/>
<polyline points="341.40,234.00 342.15,239.88 342.97,236.20 343.82,227.74 344.76,219.64 345.73,213.39 346.62,209.71 347.18,210.44 347.74,215.96 348.64,225.53 349.61,236.20 350.54,242.46 351.73,243.56 354.45,243.93 378.70,243.93" fill="none" stroke="#111" stroke-width="1.2" stroke-linejoin="round"/>
<rect x="382.80" y="208.40" width="3.2" height="1.2" fill="#aaa"/>
<rect x="386.20" y="208.70" width="1.2" height="0.6" fill="#999"/>
<rect x="382.80" y="215.38" width="3.2" height="1.2" fill="#aaa"/>
<rect x="386.20" y="215.68" width="1.2" height="0.6" fill="#999"/>
<rect x="382.80" y="222.36" width="3.2" height="1.2" fill="#aaa"/>
<rect x="386.20" y="222.66" width="1.2" height="0.6" fill="#999"/>
<rect x="382.80" y="229.34" width="3.2" height="1.2" fill="#aaa"/>
<rect x="386.20" y="229.64" width="1.2" height="0.6" fill="#999"/>
<rect x="382.80" y="236.32" width="3.2" height="1.2" fill="#aaa"/>
<rect x="386.20" y="236.62" width="1.2" height="0.6" fill="#999"/>
<rect x="382.80" y="243.30" width="3.2" height="1.2" fill="#aaa"/>
<rect x="386.20" y="243.60" width="1.2" height="0.6" fill="#999"/>
<polygon points="387.77,244.30 388.41,238.78 389.12,229.21 389.86,221.85 390.76,218.17 391.76,219.64 392.62,225.53 393.48,234.00 394.49,240.99 395.05,244.30" fill="#bababa"/>
<rect x="387.40" y="207.50" width="37.3" height="36.8" fill="none" stroke="#8a8a8a" stroke-width="0.9"/>
<polyline points="387.40,208.97 387.59,225.90 387.85,238.78 388.15,232.89 389.00,221.85 389.86,213.39 390.57,210.44 391.43,209.71 392.03,209.71 392.62,213.39 393.22,220.75 394.11,230.32 394.86,235.10 396.24,237.68 397.47,239.88 398.96,242.46 400.45,243.56 402.32,243.93 424.70,243.93" fill="none" stroke="#111" stroke-width="1.2" stroke-linejoin="round"/>
<rect x="428.40" y="208.40" width="3.2" height="1.2" fill="#aaa"/>
<rect x="431.80" y="208.70" width="1.2" height="0.6" fill="#999"/>
<rect x="428.40" y="215.38" width="3.2" height="1.2" fill="#aaa"/>
<rect x="431.80" y="215.68" width="1.2" height="0.6" fill="#999"/>
<rect x="428.40" y="222.36" width="3.2" height="1.2" fill="#aaa"/>
<rect x="431.80" y="222.66" width="1.2" height="0.6" fill="#999"/>
<rect x="428.40" y="229.34" width="3.2" height="1.2" fill="#aaa"/>
<rect x="431.80" y="229.64" width="1.2" height="0.6" fill="#999"/>
<rect x="428.40" y="236.32" width="3.2" height="1.2" fill="#aaa"/>
<rect x="431.80" y="236.62" width="1.2" height="0.6" fill="#999"/>
<rect x="428.40" y="243.30" width="3.2" height="1.2" fill="#aaa"/>
<rect x="431.80" y="243.60" width="1.2" height="0.6" fill="#999"/>
<polygon points="433.45,244.30 434.12,238.78 435.01,230.32 435.83,222.96 436.73,218.17 437.77,216.33 438.60,218.17 439.45,224.43 440.46,232.89 441.39,239.88 442.21,244.30" fill="#bababa"/>
<rect x="433.00" y="207.50" width="37.3" height="36.8" fill="none" stroke="#8a8a8a" stroke-width="0.9"/>
<polyline points="433.00,219.64 433.22,229.58 433.45,238.78 434.12,234.00 435.01,225.53 435.83,218.54 436.73,213.02 437.66,209.71 438.37,209.71 438.97,212.28 439.83,218.17 440.65,225.53 441.58,232.89 442.59,238.04 443.82,241.72 445.31,243.20 447.55,243.93 470.30,243.93" fill="none" stroke="#111" stroke-width="1.2" stroke-linejoin="round"/>
<rect x="474.20" y="208.40" width="3.2" height="1.2" fill="#aaa"/>
<rect x="477.60" y="208.70" width="1.2" height="0.6" fill="#999"/>
<rect x="474.20" y="215.38" width="3.2" height="1.2" fill="#aaa"/>
<rect x="477.60" y="215.68" width="1.2" height="0.6" fill="#999"/>
<rect x="474.20" y="222.36" width="3.2" height="1.2" fill="#aaa"/>
<rect x="477.60" y="222.66" width="1.2" height="0.6" fill="#999"/>
<rect x="474.20" y="229.34" width="3.2" height="1.2" fill="#aaa"/>
<rect x="477.60" y="229.64" width="1.2" height="0.6" fill="#999"/>
<rect x="474.20" y="236.32" width="3.2" height="1.2" fill="#aaa"/>
<rect x="477.60" y="236.62" width="1.2" height="0.6" fill="#999"/>
<rect x="474.20" y="243.30" width="3.2" height="1.2" fill="#aaa"/>
<rect x="477.60" y="243.60" width="1.2" height="0.6" fill="#999"/>
<polygon points="487.38,244.30 488.01,239.88 488.76,229.21 489.47,219.64 490.18,214.86 490.92,213.39 491.63,217.07 492.38,226.64 493.09,236.20 493.79,242.46 494.28,244.30" fill="#bababa"/>
<rect x="478.80" y="207.50" width="37.3" height="36.8" fill="none" stroke="#8a8a8a" stroke-width="0.9"/>
<polyline points="478.80,243.93 486.63,243.75 487.38,241.72 488.01,236.20 488.61,228.11 489.24,219.64 489.84,214.12 490.44,211.92 491.03,209.71 491.63,212.28 492.23,219.64 492.82,229.21 493.57,237.68 494.28,242.46 495.47,243.56 497.64,243.93 516.10,243.93" fill="none" stroke="#111" stroke-width="1.2" stroke-linejoin="round"/>
<rect x="63.80" y="252.40" width="3.2" height="1.2" fill="#aaa"/>
<rect x="67.20" y="252.70" width="1.2" height="0.6" fill="#999"/>
<rect x="63.80" y="259.38" width="3.2" height="1.2" fill="#aaa"/>
<rect x="67.20" y="259.68" width="1.2" height="0.6" fill="#999"/>
<rect x="63.80" y="266.36" width="3.2" height="1.2" fill="#aaa"/>
<rect x="67.20" y="266.66" width="1.2" height="0.6" fill="#999"/>
<rect x="63.80" y="273.34" width="3.2" height="1.2" fill="#aaa"/>
<rect x="67.20" y="273.64" width="1.2" height="0.6" fill="#999"/>
<rect x="63.80" y="280.32" width="3.2" height="1.2" fill="#aaa"/>
<rect x="67.20" y="280.62" width="1.2" height="0.6" fill="#999"/>
<rect x="63.80" y="287.30" width="3.2" height="1.2" fill="#aaa"/>
<rect x="67.20" y="287.60" width="1.2" height="0.6" fill="#999"/>
<polygon points="71.38,288.30 73.25,284.99 74.67,279.10 75.86,271.74 77.05,264.75 78.02,261.07 78.99,259.96 79.96,262.17 80.90,269.53 81.83,276.89 83.10,281.68 84.63,283.88 86.45,285.72 88.24,287.20 89.47,288.30" fill="#bababa"/>
<rect x="68.40" y="251.50" width="37.3" height="36.8" fill="none" stroke="#8a8a8a" stroke-width="0.9"/>
<polyline points="68.40,287.93 71.38,287.56 72.99,285.72 74.18,282.78 75.38,275.42 76.34,266.96 77.17,259.96 78.02,255.55 78.73,253.34 79.48,255.55 80.19,259.23 80.90,264.75 81.64,271.74 82.46,278.00 83.43,280.94 84.63,282.04 85.86,282.78 87.42,283.33 88.84,284.62 90.03,285.72 91.26,286.83 92.65,287.56 94.88,287.93 105.70,287.93" fill="none" stroke="#111" stroke-width="1.2" stroke-linejoin="round"/>
<rect x="109.60" y="252.40" width="3.2" height="1.2" fill="#aaa"/>
<rect x="113.00" y="252.70" width="1.2" height="0.6" fill="#999"/>
<rect x="109.60" y="259.38" width="3.2" height="1.2" fill="#aaa"/>
<rect x="113.00" y="259.68" width="1.2" height="0.6" fill="#999"/>
<rect x="109.60" y="266.36" width="3.2" height="1.2" fill="#aaa"/>
<rect x="113.00" y="266.66" width="1.2" height="0.6" fill="#999"/>
<rect x="109.60" y="273.34" width="3.2" height="1.2" fill="#aaa"/>
<rect x="113.00" y="273.64" width="1.2" height="0.6" fill="#999"/>
<rect x="109.60" y="280.32" width="3.2" height="1.2" fill="#aaa"/>
<rect x="113.00" y="280.62" width="1.2" height="0.6" fill="#999"/>
<rect x="109.60" y="287.30" width="3.2" height="1.2" fill="#aaa"/>
<rect x="113.00" y="287.60" width="1.2" height="0.6" fill="#999"/>
<polygon points="117.71,288.30 119.42,285.72 120.91,281.68 122.14,273.21 123.15,265.85 124.08,259.96 124.91,257.39 125.76,259.96 126.51,266.96 127.44,276.89 128.52,280.94 130.09,283.52 131.54,284.62 132.85,285.72 134.53,287.20 135.72,288.30" fill="#bababa"/>
<rect x="114.20" y="251.50" width="37.3" height="36.8" fill="none" stroke="#8a8a8a" stroke-width="0.9"/>
<polyline points="114.20,287.93 117.71,287.56 119.42,285.72 120.69,282.78 121.88,275.42 122.85,266.96 123.71,259.96 124.53,255.18 125.20,253.34 125.87,256.28 126.51,262.17 127.07,269.53 127.93,275.42 128.90,279.84 130.09,281.31 131.28,280.57 132.48,280.20 133.45,281.68 134.53,283.52 135.72,284.99 136.95,286.46 138.44,287.56 140.53,287.93 151.50,287.93" fill="none" stroke="#111" stroke-width="1.2" stroke-linejoin="round"/>
<rect x="155.20" y="252.40" width="3.2" height="1.2" fill="#aaa"/>
<rect x="158.60" y="252.70" width="1.2" height="0.6" fill="#999"/>
<rect x="155.20" y="259.38" width="3.2" height="1.2" fill="#aaa"/>
<rect x="158.60" y="259.68" width="1.2" height="0.6" fill="#999"/>
<rect x="155.20" y="266.36" width="3.2" height="1.2" fill="#aaa"/>
<rect x="158.60" y="266.66" width="1.2" height="0.6" fill="#999"/>
<rect x="155.20" y="273.34" width="3.2" height="1.2" fill="#aaa"/>
<rect x="158.60" y="273.64" width="1.2" height="0.6" fill="#999"/>
<rect x="155.20" y="280.32" width="3.2" height="1.2" fill="#aaa"/>
<rect x="158.60" y="280.62" width="1.2" height="0.6" fill="#999"/>
<rect x="155.20" y="287.30" width="3.2" height="1.2" fill="#aaa"/>
<rect x="158.60" y="287.60" width="1.2" height="0.6" fill="#999"/>
<polygon points="162.22,288.30 164.01,284.99 165.21,280.20 166.40,273.21 167.63,265.85 168.57,262.17 169.42,261.07 170.39,263.64 171.36,269.53 172.48,276.89 173.60,282.78 174.83,286.46 175.47,288.30" fill="#bababa"/>
<rect x="159.80" y="251.50" width="37.3" height="36.8" fill="none" stroke="#8a8a8a" stroke-width="0.9"/>
<polyline points="159.80,287.93 162.22,287.56 163.64,285.72 164.84,282.78 166.07,275.42 167.04,268.43 168.01,261.07 168.83,255.55 169.42,253.34 170.02,256.28 170.88,262.17 171.59,266.96 172.48,270.64 173.23,274.32 174.24,279.10 175.20,283.52 176.03,285.72 177.26,287.20 179.05,287.75 181.43,287.93 197.10,287.93" fill="none" stroke="#111" stroke-width="1.2" stroke-linejoin="round"/>
<rect x="200.70" y="252.40" width="3.2" height="1.2" fill="#aaa"/>
<rect x="204.10" y="252.70" width="1.2" height="0.6" fill="#999"/>
<rect x="200.70" y="259.38" width="3.2" height="1.2" fill="#aaa"/>
<rect x="204.10" y="259.68" width="1.2" height="0.6" fill="#999"/>
<rect x="200.70" y="266.36" width="3.2" height="1.2" fill="#aaa"/>
<rect x="204.10" y="266.66" width="1.2" height="0.6" fill="#999"/>
<rect x="200.70" y="273.34" width="3.2" height="1.2" fill="#aaa"/>
<rect x="204.10" y="273.64" width="1.2" height="0.6" fill="#999"/>
<rect x="200.70" y="280.32" width="3.2" height="1.2" fill="#aaa"/>
<rect x="204.10" y="280.62" width="1.2" height="0.6" fill="#999"/>
<rect x="200.70" y="287.30" width="3.2" height="1.2" fill="#aaa"/>
<rect x="204.10" y="287.60" width="1.2" height="0.6" fill="#999"/>
<polygon points="206.79,288.30 207.91,283.88 209.14,276.89 210.34,268.43 211.57,262.17 212.54,259.96 213.36,262.17 214.33,266.96 215.18,273.21 216.12,279.10 217.35,284.62 218.36,288.30" fill="#bababa"/>
<rect x="205.30" y="251.50" width="37.3" height="36.8" fill="none" stroke="#8a8a8a" stroke-width="0.9"/>
<polyline points="205.30,287.56 206.16,285.72 206.98,284.62 207.91,279.10 208.92,273.21 209.78,266.96 210.60,263.64 211.57,261.07 212.54,259.96 213.36,258.12 214.25,253.34 214.81,256.28 215.52,261.07 216.12,265.85 216.97,269.90 217.61,273.21 218.28,272.48 219.03,270.64 220.00,271.37 220.70,273.21 221.41,278.00 222.16,282.78 222.98,285.72 224.17,287.20 226.56,287.75 230.66,287.93 242.60,287.93" fill="none" stroke="#111" stroke-width="1.2" stroke-linejoin="round"/>
<rect x="246.10" y="252.40" width="3.2" height="1.2" fill="#aaa"/>
<rect x="249.50" y="252.70" width="1.2" height="0.6" fill="#999"/>
<rect x="246.10" y="259.38" width="3.2" height="1.2" fill="#aaa"/>
<rect x="249.50" y="259.68" width="1.2" height="0.6" fill="#999"/>
<rect x="246.10" y="266.36" width="3.2" height="1.2" fill="#aaa"/>
<rect x="249.50" y="266.66" width="1.2" height="0.6" fill="#999"/>
<rect x="246.10" y="273.34" width="3.2" height="1.2" fill="#aaa"/>
<rect x="249.50" y="273.64" width="1.2" height="0.6" fill="#999"/>
<rect x="246.10" y="280.32" width="3.2" height="1.2" fill="#aaa"/>
<rect x="249.50" y="280.62" width="1.2" height="0.6" fill="#999"/>
<rect x="246.10" y="287.30" width="3.2" height="1.2" fill="#aaa"/>
<rect x="249.50" y="287.60" width="1.2" height="0.6" fill="#999"/>
<polygon points="254.91,288.30 256.11,284.99 256.97,279.10 257.68,271.74 258.38,264.75 259.13,261.07 259.73,260.33 260.32,266.96 260.77,276.89 261.29,284.99 261.78,288.30" fill="#bababa"/>
<rect x="250.70" y="251.50" width="37.3" height="36.8" fill="none" stroke="#8a8a8a" stroke-width="0.9"/>
<polyline points="250.70,287.93 252.49,287.20 254.06,284.99 255.29,281.68 256.22,275.42 257.04,269.53 257.94,264.75 258.64,261.07 259.35,255.18 259.84,253.34 260.40,258.86 261.03,263.64 261.78,268.43 262.49,270.64 263.20,270.27 263.94,271.74 264.87,272.48 265.73,274.32 266.37,278.00 266.93,280.94 268.16,283.52 269.72,284.99 271.77,286.46 273.56,287.20 276.44,287.93 288.00,287.93" fill="none" stroke="#111" stroke-width="1.2" stroke-linejoin="round"/>
<rect x="291.80" y="252.40" width="3.2" height="1.2" fill="#aaa"/>
<rect x="295.20" y="252.70" width="1.2" height="0.6" fill="#999"/>
<rect x="291.80" y="259.38" width="3.2" height="1.2" fill="#aaa"/>
<rect x="295.20" y="259.68" width="1.2" height="0.6" fill="#999"/>
<rect x="291.80" y="266.36" width="3.2" height="1.2" fill="#aaa"/>
<rect x="295.20" y="266.66" width="1.2" height="0.6" fill="#999"/>
<rect x="291.80" y="273.34" width="3.2" height="1.2" fill="#aaa"/>
<rect x="295.20" y="273.64" width="1.2" height="0.6" fill="#999"/>
<rect x="291.80" y="280.32" width="3.2" height="1.2" fill="#aaa"/>
<rect x="295.20" y="280.62" width="1.2" height="0.6" fill="#999"/>
<rect x="291.80" y="287.30" width="3.2" height="1.2" fill="#aaa"/>
<rect x="295.20" y="287.60" width="1.2" height="0.6" fill="#999"/>
<polygon points="302.00,288.30 302.89,284.99 303.86,278.00 304.83,269.53 305.65,262.17 306.51,258.86 307.22,259.96 308.07,264.75 308.90,268.43 309.83,270.64 310.84,273.21 311.69,276.89 312.51,281.68 313.19,285.72 313.74,288.30" fill="#bababa"/>
<rect x="296.40" y="251.50" width="37.3" height="36.8" fill="none" stroke="#8a8a8a" stroke-width="0.9"/>
<polyline points="296.40,287.93 300.88,287.56 302.00,286.46 302.89,282.78 303.86,274.32 304.83,265.85 305.65,258.86 306.28,255.18 306.73,253.34 307.22,255.55 307.81,258.86 308.45,262.17 309.27,265.12 310.20,267.69 311.10,270.64 311.80,274.32 312.51,279.10 313.19,283.52 314.08,286.46 315.65,287.56 318.30,287.93 333.70,287.93" fill="none" stroke="#111" stroke-width="1.2" stroke-linejoin="round"/>
<rect x="336.80" y="252.40" width="3.2" height="1.2" fill="#aaa"/>
<rect x="340.20" y="252.70" width="1.2" height="0.6" fill="#999"/>
<rect x="336.80" y="259.38" width="3.2" height="1.2" fill="#aaa"/>
<rect x="340.20" y="259.68" width="1.2" height="0.6" fill="#999"/>
<rect x="336.80" y="266.36" width="3.2" height="1.2" fill="#aaa"/>
<rect x="340.20" y="266.66" width="1.2" height="0.6" fill="#999"/>
<rect x="336.80" y="273.34" width="3.2" height="1.2" fill="#aaa"/>
<rect x="340.20" y="273.64" width="1.2" height="0.6" fill="#999"/>
<rect x="336.80" y="280.32" width="3.2" height="1.2" fill="#aaa"/>
<rect x="340.20" y="280.62" width="1.2" height="0.6" fill="#999"/>
<rect x="336.80" y="287.30" width="3.2" height="1.2" fill="#aaa"/>
<rect x="340.20" y="287.60" width="1.2" height="0.6" fill="#999"/>
<polygon points="344.16,288.30 345.35,285.72 346.58,280.20 347.55,271.74 348.38,263.64 349.08,258.86 349.83,258.12 350.54,263.64 351.28,273.21 351.99,282.78 352.70,288.30" fill="#bababa"/>
<rect x="341.40" y="251.50" width="37.3" height="36.8" fill="none" stroke="#8a8a8a" stroke-width="0.9"/>
<polyline points="341.40,287.93 343.56,287.20 345.02,284.99 346.25,280.20 347.18,273.21 348.00,264.75 348.75,257.39 349.34,253.34 349.98,254.44 350.54,259.96 351.28,269.53 351.99,278.00 352.96,283.88 354.16,286.46 356.21,287.56 359.19,287.93 378.70,287.93" fill="none" stroke="#111" stroke-width="1.2" stroke-linejoin="round"/>
<rect x="382.80" y="252.40" width="3.2" height="1.2" fill="#aaa"/>
<rect x="386.20" y="252.70" width="1.2" height="0.6" fill="#999"/>
<rect x="382.80" y="259.38" width="3.2" height="1.2" fill="#aaa"/>
<rect x="386.20" y="259.68" width="1.2" height="0.6" fill="#999"/>
<rect x="382.80" y="266.36" width="3.2" height="1.2" fill="#aaa"/>
<rect x="386.20" y="266.66" width="1.2" height="0.6" fill="#999"/>
<rect x="382.80" y="273.34" width="3.2" height="1.2" fill="#aaa"/>
<rect x="386.20" y="273.64" width="1.2" height="0.6" fill="#999"/>
<rect x="382.80" y="280.32" width="3.2" height="1.2" fill="#aaa"/>
<rect x="386.20" y="280.62" width="1.2" height="0.6" fill="#999"/>
<rect x="382.80" y="287.30" width="3.2" height="1.2" fill="#aaa"/>
<rect x="386.20" y="287.60" width="1.2" height="0.6" fill="#999"/>
<polygon points="388.00,288.30 388.85,283.88 389.82,275.42 390.76,266.96 391.61,262.17 392.44,260.33 393.41,262.17 394.26,269.53 395.23,279.10 396.05,285.72 396.54,288.30" fill="#bababa"/>
<rect x="387.40" y="251.50" width="37.3" height="36.8" fill="none" stroke="#8a8a8a" stroke-width="0.9"/>
<polyline points="387.40,279.10 387.88,284.99 388.59,281.68 389.34,273.21 390.16,264.75 391.02,258.86 391.73,255.18 392.44,253.34 393.18,255.18 393.78,261.07 394.64,269.53 395.57,276.89 396.65,281.68 397.99,284.99 399.45,286.83 401.84,287.75 404.86,287.93 424.70,287.93" fill="none" stroke="#111" stroke-width="1.2" stroke-linejoin="round"/>
<rect x="428.40" y="252.40" width="3.2" height="1.2" fill="#aaa"/>
<rect x="431.80" y="252.70" width="1.2" height="0.6" fill="#999"/>
<rect x="428.40" y="259.38" width="3.2" height="1.2" fill="#aaa"/>
<rect x="431.80" y="259.68" width="1.2" height="0.6" fill="#999"/>
<rect x="428.40" y="266.36" width="3.2" height="1.2" fill="#aaa"/>
<rect x="431.80" y="266.66" width="1.2" height="0.6" fill="#999"/>
<rect x="428.40" y="273.34" width="3.2" height="1.2" fill="#aaa"/>
<rect x="431.80" y="273.64" width="1.2" height="0.6" fill="#999"/>
<rect x="428.40" y="280.32" width="3.2" height="1.2" fill="#aaa"/>
<rect x="431.80" y="280.62" width="1.2" height="0.6" fill="#999"/>
<rect x="428.40" y="287.30" width="3.2" height="1.2" fill="#aaa"/>
<rect x="431.80" y="287.60" width="1.2" height="0.6" fill="#999"/>
<polygon points="435.80,288.30 437.10,282.78 438.22,275.79 439.53,269.53 440.65,266.22 441.58,268.43 442.32,275.79 443.07,284.25 443.82,288.30" fill="#bababa"/>
<rect x="433.00" y="251.50" width="37.3" height="36.8" fill="none" stroke="#8a8a8a" stroke-width="0.9"/>
<polyline points="433.00,287.93 433.37,287.56 434.49,285.36 435.80,278.00 437.10,269.53 438.22,261.07 439.34,256.28 440.65,253.34 441.58,255.18 442.32,261.07 443.63,267.32 444.94,272.11 446.80,276.16 447.92,279.10 449.04,282.78 450.34,285.72 452.02,287.56 454.63,287.93 470.30,287.93" fill="none" stroke="#111" stroke-width="1.2" stroke-linejoin="round"/>
<rect x="474.20" y="252.40" width="3.2" height="1.2" fill="#aaa"/>
<rect x="477.60" y="252.70" width="1.2" height="0.6" fill="#999"/>
<rect x="474.20" y="259.38" width="3.2" height="1.2" fill="#aaa"/>
<rect x="477.60" y="259.68" width="1.2" height="0.6" fill="#999"/>
<rect x="474.20" y="266.36" width="3.2" height="1.2" fill="#aaa"/>
<rect x="477.60" y="266.66" width="1.2" height="0.6" fill="#999"/>
<rect x="474.20" y="273.34" width="3.2" height="1.2" fill="#aaa"/>
<rect x="477.60" y="273.64" width="1.2" height="0.6" fill="#999"/>
<rect x="474.20" y="280.32" width="3.2" height="1.2" fill="#aaa"/>
<rect x="477.60" y="280.62" width="1.2" height="0.6" fill="#999"/>
<rect x="474.20" y="287.30" width="3.2" height="1.2" fill="#aaa"/>
<rect x="477.60" y="287.60" width="1.2" height="0.6" fill="#999"/>
<polygon points="490.59,288.30 491.30,284.99 492.04,276.89 492.75,266.96 493.50,261.07 494.20,259.96 494.84,264.75 495.40,274.32 496.14,282.78 496.85,286.83 497.34,288.30" fill="#bababa"/>
<rect x="478.80" y="251.50" width="37.3" height="36.8" fill="none" stroke="#8a8a8a" stroke-width="0.9"/>
<polyline points="478.80,287.93 489.39,287.75 490.36,285.72 491.07,280.20 491.78,270.64 492.53,261.07 493.12,255.55 493.72,253.34 494.32,255.55 494.80,263.64 495.40,273.21 496.14,279.10 497.08,282.04 498.05,283.88 499.24,285.72 500.81,286.83 502.86,287.56 505.66,287.93 516.10,287.93" fill="none" stroke="#111" stroke-width="1.2" stroke-linejoin="round"/>
<rect x="63.80" y="296.40" width="3.2" height="1.2" fill="#aaa"/>
<rect x="67.20" y="296.70" width="1.2" height="0.6" fill="#999"/>
<rect x="63.80" y="303.26" width="3.2" height="1.2" fill="#aaa"/>
<rect x="67.20" y="303.56" width="1.2" height="0.6" fill="#999"/>
<rect x="63.80" y="310.12" width="3.2" height="1.2" fill="#aaa"/>
<rect x="67.20" y="310.42" width="1.2" height="0.6" fill="#999"/>
<rect x="63.80" y="316.98" width="3.2" height="1.2" fill="#aaa"/>
<rect x="67.20" y="317.28" width="1.2" height="0.6" fill="#999"/>
<rect x="63.80" y="323.84" width="3.2" height="1.2" fill="#aaa"/>
<rect x="67.20" y="324.14" width="1.2" height="0.6" fill="#999"/>
<rect x="63.80" y="330.70" width="3.2" height="1.2" fill="#aaa"/>
<rect x="67.20" y="331.00" width="1.2" height="0.6" fill="#999"/>
<polygon points="70.80,331.70 72.04,329.06 73.20,324.46 74.44,317.22 75.68,309.98 76.59,305.27 77.43,303.46 78.23,305.27 79.32,309.98 80.23,315.77 81.14,321.93 82.12,326.63 83.11,329.67 84.05,331.70" fill="#bababa"/>
<rect x="68.40" y="295.50" width="36.4" height="36.2" fill="none" stroke="#8a8a8a" stroke-width="0.9"/>
<polyline points="68.40,331.34 70.22,330.87 71.42,329.06 72.62,325.55 73.86,319.39 74.95,311.07 76.23,303.83 77.06,299.12 77.50,297.31 78.16,300.21 78.96,304.91 79.87,309.98 80.70,314.69 81.65,320.84 82.60,325.55 83.58,328.44 84.67,330.25 86.24,331.08 88.78,331.45 104.80,331.45" fill="none" stroke="#111" stroke-width="1.2" stroke-linejoin="round"/>
<rect x="67.90" y="333.30" width="3" height="1.1" fill="#aaa"/>
<rect x="76.50" y="333.30" width="3" height="1.1" fill="#aaa"/>
<rect x="85.10" y="333.30" width="3" height="1.1" fill="#aaa"/>
<rect x="93.70" y="333.30" width="3" height="1.1" fill="#aaa"/>
<rect x="102.30" y="333.30" width="3" height="1.1" fill="#aaa"/>
<rect x="108.00" y="296.40" width="3.2" height="1.2" fill="#aaa"/>
<rect x="111.40" y="296.70" width="1.2" height="0.6" fill="#999"/>
<rect x="108.00" y="303.26" width="3.2" height="1.2" fill="#aaa"/>
<rect x="111.40" y="303.56" width="1.2" height="0.6" fill="#999"/>
<rect x="108.00" y="310.12" width="3.2" height="1.2" fill="#aaa"/>
<rect x="111.40" y="310.42" width="1.2" height="0.6" fill="#999"/>
<rect x="108.00" y="316.98" width="3.2" height="1.2" fill="#aaa"/>
<rect x="111.40" y="317.28" width="1.2" height="0.6" fill="#999"/>
<rect x="108.00" y="323.84" width="3.2" height="1.2" fill="#aaa"/>
<rect x="111.40" y="324.14" width="1.2" height="0.6" fill="#999"/>
<rect x="108.00" y="330.70" width="3.2" height="1.2" fill="#aaa"/>
<rect x="111.40" y="331.00" width="1.2" height="0.6" fill="#999"/>
<polygon points="114.17,331.70 115.37,329.67 116.60,325.55 117.77,319.39 118.97,312.15 120.24,306.36 121.15,303.83 121.99,305.27 122.97,309.98 123.88,315.77 124.98,321.93 125.96,326.63 127.05,330.25 127.78,331.70" fill="#bababa"/>
<rect x="112.60" y="295.50" width="36.4" height="36.2" fill="none" stroke="#8a8a8a" stroke-width="0.9"/>
<polyline points="112.60,331.34 114.17,330.87 115.37,329.06 116.60,325.55 117.77,319.39 118.97,311.07 120.24,302.74 121.04,298.40 121.52,297.31 122.25,301.65 123.16,306.36 124.18,311.07 125.12,317.22 126.07,321.93 127.05,326.63 128.03,329.67 129.23,330.98 131.53,331.45 149.00,331.45" fill="none" stroke="#111" stroke-width="1.2" stroke-linejoin="round"/>
<rect x="112.10" y="333.30" width="3" height="1.1" fill="#aaa"/>
<rect x="120.70" y="333.30" width="3" height="1.1" fill="#aaa"/>
<rect x="129.30" y="333.30" width="3" height="1.1" fill="#aaa"/>
<rect x="137.90" y="333.30" width="3" height="1.1" fill="#aaa"/>
<rect x="146.50" y="333.30" width="3" height="1.1" fill="#aaa"/>
<rect x="154.60" y="296.40" width="3.2" height="1.2" fill="#aaa"/>
<rect x="158.00" y="296.70" width="1.2" height="0.6" fill="#999"/>
<rect x="154.60" y="303.26" width="3.2" height="1.2" fill="#aaa"/>
<rect x="158.00" y="303.56" width="1.2" height="0.6" fill="#999"/>
<rect x="154.60" y="310.12" width="3.2" height="1.2" fill="#aaa"/>
<rect x="158.00" y="310.42" width="1.2" height="0.6" fill="#999"/>
<rect x="154.60" y="316.98" width="3.2" height="1.2" fill="#aaa"/>
<rect x="158.00" y="317.28" width="1.2" height="0.6" fill="#999"/>
<rect x="154.60" y="323.84" width="3.2" height="1.2" fill="#aaa"/>
<rect x="158.00" y="324.14" width="1.2" height="0.6" fill="#999"/>
<rect x="154.60" y="330.70" width="3.2" height="1.2" fill="#aaa"/>
<rect x="158.00" y="331.00" width="1.2" height="0.6" fill="#999"/>
<polygon points="161.60,331.70 162.84,329.06 164.00,324.46 165.24,317.22 166.48,311.07 167.39,307.81 168.48,307.08 169.39,309.98 170.41,312.15 171.58,317.22 172.81,321.93 174.01,325.55 175.47,328.44 176.93,330.87 177.87,331.70" fill="#bababa"/>
<rect x="159.20" y="295.50" width="36.4" height="36.2" fill="none" stroke="#8a8a8a" stroke-width="0.9"/>
<polyline points="159.20,331.34 161.60,330.87 162.84,329.06 164.00,325.55 165.24,318.31 166.12,312.15 166.77,307.45 167.50,305.27 167.94,297.67 168.48,305.27 169.21,308.89 170.12,312.15 170.85,315.41 171.87,319.39 173.03,323.01 174.27,325.55 175.47,327.36 176.67,329.06 178.13,330.51 180.31,331.23 182.68,331.45 195.60,331.45" fill="none" stroke="#111" stroke-width="1.2" stroke-linejoin="round"/>
<rect x="158.70" y="333.30" width="3" height="1.1" fill="#aaa"/>
<rect x="167.30" y="333.30" width="3" height="1.1" fill="#aaa"/>
<rect x="175.90" y="333.30" width="3" height="1.1" fill="#aaa"/>
<rect x="184.50" y="333.30" width="3" height="1.1" fill="#aaa"/>
<rect x="193.10" y="333.30" width="3" height="1.1" fill="#aaa"/>
<rect x="201.80" y="296.40" width="3.2" height="1.2" fill="#aaa"/>
<rect x="205.20" y="296.70" width="1.2" height="0.6" fill="#999"/>
<rect x="201.80" y="303.26" width="3.2" height="1.2" fill="#aaa"/>
<rect x="205.20" y="303.56" width="1.2" height="0.6" fill="#999"/>
<rect x="201.80" y="310.12" width="3.2" height="1.2" fill="#aaa"/>
<rect x="205.20" y="310.42" width="1.2" height="0.6" fill="#999"/>
<rect x="201.80" y="316.98" width="3.2" height="1.2" fill="#aaa"/>
<rect x="205.20" y="317.28" width="1.2" height="0.6" fill="#999"/>
<rect x="201.80" y="323.84" width="3.2" height="1.2" fill="#aaa"/>
<rect x="205.20" y="324.14" width="1.2" height="0.6" fill="#999"/>
<rect x="201.80" y="330.70" width="3.2" height="1.2" fill="#aaa"/>
<rect x="205.20" y="331.00" width="1.2" height="0.6" fill="#999"/>
<polygon points="206.65,331.70 207.24,328.08 208.11,321.93 209.06,314.69 210.04,307.45 210.88,305.27 211.75,306.36 212.70,311.07 213.68,317.22 214.66,323.01 215.61,328.08 216.34,331.70" fill="#bababa"/>
<rect x="206.40" y="295.50" width="36.4" height="36.2" fill="none" stroke="#8a8a8a" stroke-width="0.9"/>
<polyline points="206.40,314.69 207.02,321.93 207.60,319.39 208.47,313.60 209.31,307.45 210.04,302.74 210.77,299.12 211.24,297.67 211.75,301.65 212.48,306.36 213.21,309.98 213.93,312.15 214.52,317.22 215.14,321.93 216.12,324.82 217.32,326.63 218.52,329.06 219.76,330.87 221.21,331.45 242.80,331.45" fill="none" stroke="#111" stroke-width="1.2" stroke-linejoin="round"/>
<rect x="205.90" y="333.30" width="3" height="1.1" fill="#aaa"/>
<rect x="214.50" y="333.30" width="3" height="1.1" fill="#aaa"/>
<rect x="223.10" y="333.30" width="3" height="1.1" fill="#aaa"/>
<rect x="231.70" y="333.30" width="3" height="1.1" fill="#aaa"/>
<rect x="240.30" y="333.30" width="3" height="1.1" fill="#aaa"/>
<rect x="246.10" y="296.40" width="3.2" height="1.2" fill="#aaa"/>
<rect x="249.50" y="296.70" width="1.2" height="0.6" fill="#999"/>
<rect x="246.10" y="303.26" width="3.2" height="1.2" fill="#aaa"/>
<rect x="249.50" y="303.56" width="1.2" height="0.6" fill="#999"/>
<rect x="246.10" y="310.12" width="3.2" height="1.2" fill="#aaa"/>
<rect x="249.50" y="310.42" width="1.2" height="0.6" fill="#999"/>
<rect x="246.10" y="316.98" width="3.2" height="1.2" fill="#aaa"/>
<rect x="249.50" y="317.28" width="1.2" height="0.6" fill="#999"/>
<rect x="246.10" y="323.84" width="3.2" height="1.2" fill="#aaa"/>
<rect x="249.50" y="324.14" width="1.2" height="0.6" fill="#999"/>
<rect x="246.10" y="330.70" width="3.2" height="1.2" fill="#aaa"/>
<rect x="249.50" y="331.00" width="1.2" height="0.6" fill="#999"/>
<polygon points="251.90,331.70 252.88,328.08 253.83,320.84 254.67,312.15 255.50,305.27 256.45,301.65 257.18,301.65 257.91,305.27 258.64,313.60 259.44,323.01 260.31,329.67 260.78,331.70" fill="#bababa"/>
<rect x="250.70" y="295.50" width="36.4" height="36.2" fill="none" stroke="#8a8a8a" stroke-width="0.9"/>
<polyline points="250.70,330.25 251.65,330.25 252.63,328.08 253.47,323.01 254.34,315.77 255.03,308.53 255.76,302.74 256.45,299.12 257.18,297.67 257.91,300.21 258.64,307.45 259.36,317.22 260.05,324.46 261.04,328.44 262.24,330.25 264.90,330.98 268.54,331.45 287.10,331.45" fill="none" stroke="#111" stroke-width="1.2" stroke-linejoin="round"/>
<rect x="250.20" y="333.30" width="3" height="1.1" fill="#aaa"/>
<rect x="258.80" y="333.30" width="3" height="1.1" fill="#aaa"/>
<rect x="267.40" y="333.30" width="3" height="1.1" fill="#aaa"/>
<rect x="276.00" y="333.30" width="3" height="1.1" fill="#aaa"/>
<rect x="284.60" y="333.30" width="3" height="1.1" fill="#aaa"/>
<rect x="291.80" y="296.40" width="3.2" height="1.2" fill="#aaa"/>
<rect x="295.20" y="296.70" width="1.2" height="0.6" fill="#999"/>
<rect x="291.80" y="303.26" width="3.2" height="1.2" fill="#aaa"/>
<rect x="295.20" y="303.56" width="1.2" height="0.6" fill="#999"/>
<rect x="291.80" y="310.12" width="3.2" height="1.2" fill="#aaa"/>
<rect x="295.20" y="310.42" width="1.2" height="0.6" fill="#999"/>
<rect x="291.80" y="316.98" width="3.2" height="1.2" fill="#aaa"/>
<rect x="295.20" y="317.28" width="1.2" height="0.6" fill="#999"/>
<rect x="291.80" y="323.84" width="3.2" height="1.2" fill="#aaa"/>
<rect x="295.20" y="324.14" width="1.2" height="0.6" fill="#999"/>
<rect x="291.80" y="330.70" width="3.2" height="1.2" fill="#aaa"/>
<rect x="295.20" y="331.00" width="1.2" height="0.6" fill="#999"/>
<polygon points="300.04,331.70 300.99,329.06 301.93,321.93 302.95,313.60 303.86,306.36 304.84,302.74 305.68,302.74 306.52,306.36 307.50,313.60 308.41,321.93 309.39,328.44 310.12,331.70" fill="#bababa"/>
<rect x="296.40" y="295.50" width="36.4" height="36.2" fill="none" stroke="#8a8a8a" stroke-width="0.9"/>
<polyline points="296.40,331.45 299.42,330.98 300.62,329.06 301.50,324.46 302.44,315.77 303.39,307.45 304.23,301.65 304.84,298.40 305.57,297.67 306.23,300.21 306.96,305.27 307.87,312.51 308.70,319.39 309.65,326.63 310.60,330.25 312.05,331.23 314.60,331.45 332.80,331.45" fill="none" stroke="#111" stroke-width="1.2" stroke-linejoin="round"/>
<rect x="295.90" y="333.30" width="3" height="1.1" fill="#aaa"/>
<rect x="304.50" y="333.30" width="3" height="1.1" fill="#aaa"/>
<rect x="313.10" y="333.30" width="3" height="1.1" fill="#aaa"/>
<rect x="321.70" y="333.30" width="3" height="1.1" fill="#aaa"/>
<rect x="330.30" y="333.30" width="3" height="1.1" fill="#aaa"/>
<rect x="337.60" y="296.40" width="3.2" height="1.2" fill="#aaa"/>
<rect x="341.00" y="296.70" width="1.2" height="0.6" fill="#999"/>
<rect x="337.60" y="303.26" width="3.2" height="1.2" fill="#aaa"/>
<rect x="341.00" y="303.56" width="1.2" height="0.6" fill="#999"/>
<rect x="337.60" y="310.12" width="3.2" height="1.2" fill="#aaa"/>
<rect x="341.00" y="310.42" width="1.2" height="0.6" fill="#999"/>
<rect x="337.60" y="316.98" width="3.2" height="1.2" fill="#aaa"/>
<rect x="341.00" y="317.28" width="1.2" height="0.6" fill="#999"/>
<rect x="337.60" y="323.84" width="3.2" height="1.2" fill="#aaa"/>
<rect x="341.00" y="324.14" width="1.2" height="0.6" fill="#999"/>
<rect x="337.60" y="330.70" width="3.2" height="1.2" fill="#aaa"/>
<rect x="341.00" y="331.00" width="1.2" height="0.6" fill="#999"/>
<polygon points="342.56,331.70 342.93,323.01 344.02,311.07 345.11,303.83 346.20,301.65 347.30,309.98 348.39,320.84 349.48,329.17 350.57,331.70" fill="#bababa"/>
<rect x="342.20" y="295.50" width="36.4" height="36.2" fill="none" stroke="#8a8a8a" stroke-width="0.9"/>
<polyline points="342.20,298.03 342.75,309.98 343.47,322.65 344.38,311.79 345.48,300.93 346.20,297.31 346.93,300.93 347.84,311.79 348.57,320.84 349.48,328.08 351.30,330.98 356.76,331.34 378.60,331.34" fill="none" stroke="#111" stroke-width="1.2" stroke-linejoin="round"/>
<rect x="341.70" y="333.30" width="3" height="1.1" fill="#aaa"/>
<rect x="350.30" y="333.30" width="3" height="1.1" fill="#aaa"/>
<rect x="358.90" y="333.30" width="3" height="1.1" fill="#aaa"/>
<rect x="367.50" y="333.30" width="3" height="1.1" fill="#aaa"/>
<rect x="376.10" y="333.30" width="3" height="1.1" fill="#aaa"/>
<rect x="382.80" y="296.40" width="3.2" height="1.2" fill="#aaa"/>
<rect x="386.20" y="296.70" width="1.2" height="0.6" fill="#999"/>
<rect x="382.80" y="303.26" width="3.2" height="1.2" fill="#aaa"/>
<rect x="386.20" y="303.56" width="1.2" height="0.6" fill="#999"/>
<rect x="382.80" y="310.12" width="3.2" height="1.2" fill="#aaa"/>
<rect x="386.20" y="310.42" width="1.2" height="0.6" fill="#999"/>
<rect x="382.80" y="316.98" width="3.2" height="1.2" fill="#aaa"/>
<rect x="386.20" y="317.28" width="1.2" height="0.6" fill="#999"/>
<rect x="382.80" y="323.84" width="3.2" height="1.2" fill="#aaa"/>
<rect x="386.20" y="324.14" width="1.2" height="0.6" fill="#999"/>
<rect x="382.80" y="330.70" width="3.2" height="1.2" fill="#aaa"/>
<rect x="386.20" y="331.00" width="1.2" height="0.6" fill="#999"/>
<polygon points="387.95,331.70 388.49,323.37 389.44,311.07 390.31,302.74 391.04,301.65 392.50,302.74 393.59,308.53 394.86,316.86 396.14,325.55 397.23,330.61 397.96,331.70" fill="#bababa"/>
<rect x="387.40" y="295.50" width="36.4" height="36.2" fill="none" stroke="#8a8a8a" stroke-width="0.9"/>
<polyline points="387.40,296.59 387.84,309.98 388.31,320.84 388.86,311.07 389.80,301.29 390.68,298.40 391.40,299.48 392.13,299.12 393.04,302.74 394.32,308.53 395.41,316.86 396.68,325.55 398.32,329.53 400.87,331.34 423.80,331.34" fill="none" stroke="#111" stroke-width="1.2" stroke-linejoin="round"/>
<rect x="386.90" y="333.30" width="3" height="1.1" fill="#aaa"/>
<rect x="395.50" y="333.30" width="3" height="1.1" fill="#aaa"/>
<rect x="404.10" y="333.30" width="3" height="1.1" fill="#aaa"/>
<rect x="412.70" y="333.30" width="3" height="1.1" fill="#aaa"/>
<rect x="421.30" y="333.30" width="3" height="1.1" fill="#aaa"/>
<rect x="429.40" y="296.40" width="3.2" height="1.2" fill="#aaa"/>
<rect x="432.80" y="296.70" width="1.2" height="0.6" fill="#999"/>
<rect x="429.40" y="303.26" width="3.2" height="1.2" fill="#aaa"/>
<rect x="432.80" y="303.56" width="1.2" height="0.6" fill="#999"/>
<rect x="429.40" y="310.12" width="3.2" height="1.2" fill="#aaa"/>
<rect x="432.80" y="310.42" width="1.2" height="0.6" fill="#999"/>
<rect x="429.40" y="316.98" width="3.2" height="1.2" fill="#aaa"/>
<rect x="432.80" y="317.28" width="1.2" height="0.6" fill="#999"/>
<rect x="429.40" y="323.84" width="3.2" height="1.2" fill="#aaa"/>
<rect x="432.80" y="324.14" width="1.2" height="0.6" fill="#999"/>
<rect x="429.40" y="330.70" width="3.2" height="1.2" fill="#aaa"/>
<rect x="432.80" y="331.00" width="1.2" height="0.6" fill="#999"/>
<polygon points="434.36,331.70 435.27,317.22 436.18,305.27 437.09,300.21 438.00,303.83 439.28,314.69 440.55,324.46 441.64,330.61 442.37,331.70" fill="#bababa"/>
<rect x="434.00" y="295.50" width="36.4" height="36.2" fill="none" stroke="#8a8a8a" stroke-width="0.9"/>
<polyline points="434.00,296.22 434.36,309.98 434.73,320.84 434.91,323.37 435.64,311.07 436.55,301.65 437.28,297.31 438.00,299.12 438.91,307.45 440.19,319.75 441.28,327.36 443.10,330.25 445.65,331.34 470.40,331.34" fill="none" stroke="#111" stroke-width="1.2" stroke-linejoin="round"/>
<rect x="433.50" y="333.30" width="3" height="1.1" fill="#aaa"/>
<rect x="442.10" y="333.30" width="3" height="1.1" fill="#aaa"/>
<rect x="450.70" y="333.30" width="3" height="1.1" fill="#aaa"/>
<rect x="459.30" y="333.30" width="3" height="1.1" fill="#aaa"/>
<rect x="467.90" y="333.30" width="3" height="1.1" fill="#aaa"/>
<rect x="474.60" y="296.40" width="3.2" height="1.2" fill="#aaa"/>
<rect x="478.00" y="296.70" width="1.2" height="0.6" fill="#999"/>
<rect x="474.60" y="303.26" width="3.2" height="1.2" fill="#aaa"/>
<rect x="478.00" y="303.56" width="1.2" height="0.6" fill="#999"/>
<rect x="474.60" y="310.12" width="3.2" height="1.2" fill="#aaa"/>
<rect x="478.00" y="310.42" width="1.2" height="0.6" fill="#999"/>
<rect x="474.60" y="316.98" width="3.2" height="1.2" fill="#aaa"/>
<rect x="478.00" y="317.28" width="1.2" height="0.6" fill="#999"/>
<rect x="474.60" y="323.84" width="3.2" height="1.2" fill="#aaa"/>
<rect x="478.00" y="324.14" width="1.2" height="0.6" fill="#999"/>
<rect x="474.60" y="330.70" width="3.2" height="1.2" fill="#aaa"/>
<rect x="478.00" y="331.00" width="1.2" height="0.6" fill="#999"/>
<polygon points="488.05,331.70 488.74,328.08 489.46,319.39 490.19,311.07 490.92,305.27 491.65,302.74 492.38,305.27 493.10,313.60 493.83,323.01 494.56,329.67 495.03,331.70" fill="#bababa"/>
<rect x="479.20" y="295.50" width="36.4" height="36.2" fill="none" stroke="#8a8a8a" stroke-width="0.9"/>
<polyline points="479.20,331.45 487.43,331.45 488.30,329.06 489.03,323.01 489.76,314.69 490.48,306.36 491.21,300.21 491.94,298.03 492.49,300.21 493.10,307.45 493.83,317.22 494.56,325.55 495.29,330.25 496.49,331.23 498.86,331.45 515.60,331.45" fill="none" stroke="#111" stroke-width="1.2" stroke-linejoin="round"/>
<rect x="478.70" y="333.30" width="3" height="1.1" fill="#aaa"/>
<rect x="487.30" y="333.30" width="3" height="1.1" fill="#aaa"/>
<rect x="495.90" y="333.30" width="3" height="1.1" fill="#aaa"/>
<rect x="504.50" y="333.30" width="3" height="1.1" fill="#aaa"/>
<rect x="513.10" y="333.30" width="3" height="1.1" fill="#aaa"/>
</svg>
</body></html>
